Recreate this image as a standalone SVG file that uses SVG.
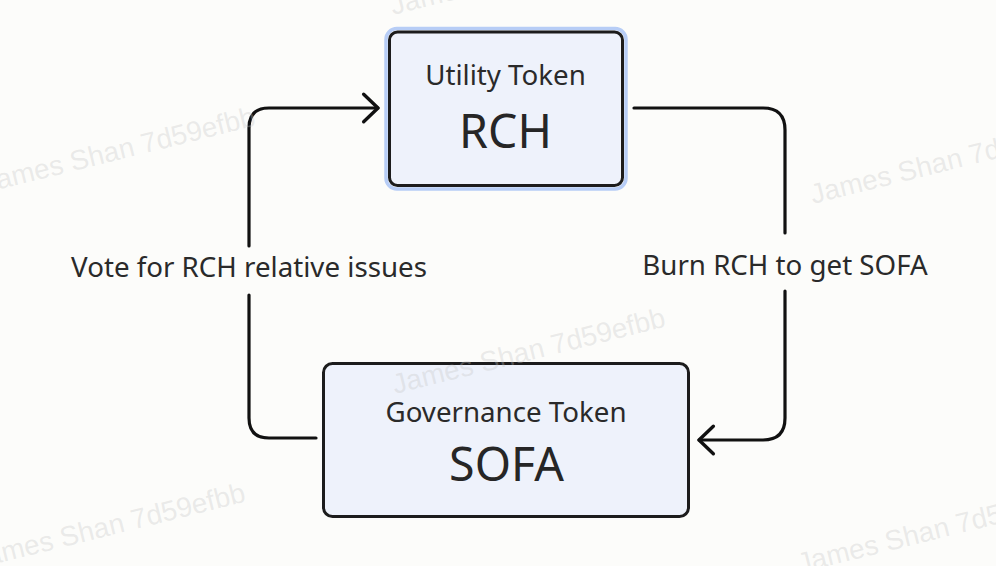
<svg xmlns="http://www.w3.org/2000/svg" width="996" height="566" viewBox="0 0 996 566">
<style>
.bg{fill:#fcfcfa}
.wm{font-family:"Liberation Sans",Arial,sans-serif;font-size:28px;fill:#c4c4c4;fill-opacity:0.33}
.box{fill:#eef2fb;stroke:#1c1c1c;stroke-width:3}
.halo{fill:none;stroke:#b7cdf6;stroke-width:3.5}
.sub{font-family:"Noto Sans","Open Sans",sans-serif;font-size:27.7px;fill:#2a2a2a;text-anchor:middle}
.big{font-family:"Noto Sans","Open Sans",sans-serif;font-size:46.5px;fill:#262626;text-anchor:middle}
.lbl{font-family:"Noto Sans","Open Sans",sans-serif;font-size:27.7px;fill:#2a2a2a;text-anchor:middle}
.edge{fill:none;stroke:#111;stroke-width:3.2;stroke-linecap:round;stroke-linejoin:round}
</style>
<defs>
<marker id="arr" markerUnits="userSpaceOnUse" markerWidth="30" markerHeight="34" viewBox="-17 -16 20 32" refX="0" refY="0" orient="auto">
<path d="M-13.5,-13 L0,0 L-13.5,13" fill="none" stroke="#111" stroke-width="3.2" stroke-linecap="round" stroke-linejoin="round"/>
</marker>
</defs>
<rect class="bg" x="0" y="0" width="996" height="566"/>
<g id="connectors">
<path class="edge" d="M316,438 H269 Q249,438 249,418 V295"/>
<path class="edge" d="M249,246 V128 Q249,108 269,108 H378" marker-end="url(#arr)"/>
<path class="edge" d="M634,108 H763 Q785,108 785,130 V233"/>
<path class="edge" d="M785,291 V418 Q785,440 763,440 H699" marker-end="url(#arr)"/>
<text class="lbl" x="249" y="277">Vote for RCH relative issues</text>
<text class="lbl" x="785" y="275">Burn RCH to get SOFA</text>
</g>
<g id="node-rch">
<rect class="halo" x="386" y="28.5" width="240" height="160.5" rx="11"/>
<rect class="box" x="389.5" y="32" width="233" height="153.5" rx="8"/>
<text class="sub" x="505.5" y="85">Utility Token</text>
<text class="big" x="505.5" y="148">RCH</text>
</g>
<g id="node-sofa">
<rect class="box" x="323.5" y="363.5" width="365" height="153" rx="9"/>
<text class="sub" x="506" y="422">Governance Token</text>
<text class="big" x="506.5" y="481">SOFA</text>
</g>
<g id="watermarks">
<text class="wm" transform="translate(393,15) rotate(-14)">James Shan 7d59efbb</text>
<text class="wm" transform="translate(-15,193) rotate(-14)">James Shan 7d59efbb</text>
<text class="wm" transform="translate(813,204) rotate(-14)">James Shan 7d59efbb</text>
<text class="wm" transform="translate(395,394) rotate(-14)">James Shan 7d59efbb</text>
<text class="wm" transform="translate(-25,569) rotate(-14)">James Shan 7d59efbb</text>
<text class="wm" transform="translate(800,573) rotate(-14)">James Shan 7d59efbb</text>
</g>
</svg>
